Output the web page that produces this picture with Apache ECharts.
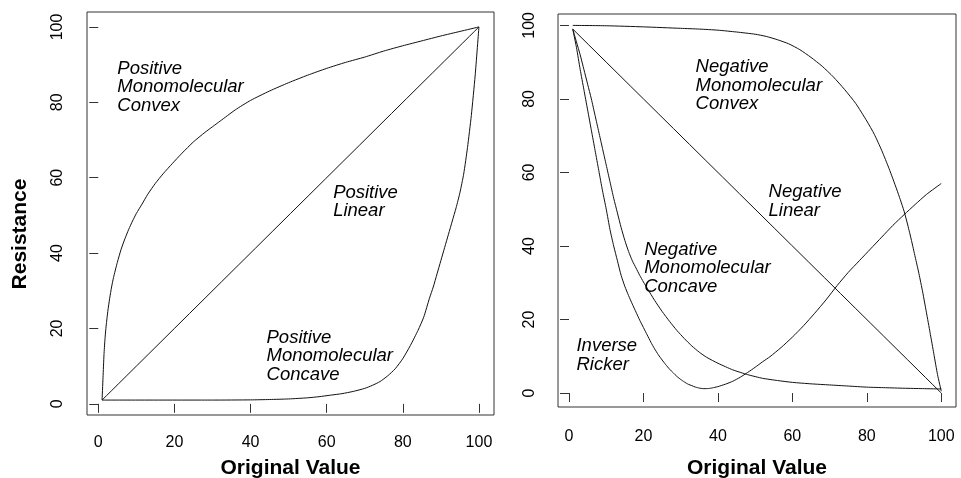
<!DOCTYPE html>
<html>
<head>
<meta charset="utf-8">
<script src="https://cdn.jsdelivr.net/npm/echarts@6/dist/echarts.min.js"></script>
<style>
  html, body { margin: 0; padding: 0; background: #fff; }
  #chart { width: 961px; height: 478px; }
</style>
</head>
<body>
<div id="chart"></div>
<script>
// tick values shared by every axis
const ticks = [0, 20, 40, 60, 80, 100];

// left panel curves
const posConvex = [[1, 1], [1.25, 7], [1.5, 13], [1.75, 17], [2, 20], [2.5, 24.5], [3, 28], [3.5, 31],
    [4, 33.5], [5, 37.5], [6, 41], [7, 43.8], [8, 46.3], [9, 48.5], [10, 50.5], [11.5, 53], [13, 55.6],
    [15, 58.5], [17, 61], [19.5, 63.8], [22, 66.5], [25, 69.5], [28, 72], [32, 75], [36, 78], [40, 80.5],
    [45, 83], [50, 85.2], [55, 87.2], [60, 89], [65, 90.6], [70, 92], [75, 93.6], [80, 95], [85, 96.3],
    [90, 97.6], [95, 98.8], [100, 100]];
const posLinear = [[1, 1], [100, 100]];
const posConcave = [[1, 1], [30, 1], [40, 1.05], [45, 1.15], [50, 1.3], [55, 1.6], [58, 1.9], [61, 2.3],
    [64, 2.7], [67, 3.3], [70, 4.1], [72, 4.9], [74, 5.9], [76, 7.4], [78, 9.3], [80, 12], [82, 15.5],
    [84, 19.5], [85.5, 23], [87, 28], [88, 31], [89, 34.5], [90, 38], [91, 41.5], [92, 45], [93, 48.5],
    [94, 52], [95, 56], [96, 61], [97, 68], [98, 76.5], [99, 87], [100, 100]];

// right panel curves
const negConvex = [[1, 100], [10, 99.9], [20, 99.6], [30, 99.2], [35, 99], [40, 98.7], [45, 98.2],
    [50, 97.6], [53, 97], [56, 96.1], [59, 95], [62, 93.4], [65, 91.3], [68, 88.9], [71, 86], [74, 82.6],
    [77, 78.8], [80, 74], [82, 70.4], [84, 66], [86, 61], [88, 55.5], [89, 52.6], [90, 49.5], [91, 45.7],
    [92, 41.5], [93, 37], [94, 32.5], [95, 27.5], [96, 22], [97, 16.4], [98, 10.7], [99, 5], [100, 0.5]];
const negLinear = [[1, 99], [100, 0]];
const negConcave = [[1, 99], [2, 95.5], [3, 92], [4, 88], [5, 84], [6, 80], [7, 75.5], [8, 71], [9, 66.5],
    [10, 62], [11, 57.5], [12, 53], [13, 49], [14, 45], [15, 41.5], [16, 38.5], [17, 36], [18, 34], [19, 32],
    [20, 30.2], [21, 28.5], [23, 25.2], [25, 22.2], [27, 19.5], [29, 17], [31, 14.8], [33, 12.8], [35, 11.1],
    [37, 9.7], [40, 8.1], [44, 6.3], [48, 5], [52, 4], [56, 3.4], [60, 2.9], [65, 2.5], [70, 2.2], [75, 1.9],
    [80, 1.6], [85, 1.45], [90, 1.3], [95, 1.2], [100, 1.1]];
const invRicker = [[1, 99], [2, 94], [3, 88], [4, 82.5], [5, 77], [6, 71.5], [7, 66], [8, 60.5], [9, 55],
    [10, 50], [11, 44.5], [12, 40], [13, 36], [14, 32], [15, 29], [16, 26.5], [17, 24.2], [18, 22], [19, 19.8],
    [20, 17.8], [21, 15.8], [22, 13.8], [23, 12], [24, 10.4], [25, 9], [26, 7.7], [27, 6.5], [28, 5.5],
    [29, 4.5], [30, 3.7], [31, 3], [32, 2.4], [33, 2], [34, 1.6], [35, 1.35], [36, 1.2], [37, 1.2], [38, 1.3],
    [39, 1.5], [40, 1.75], [42, 2.4], [44, 3.2], [46, 4.3], [48, 5.6], [50, 7], [52, 8.5], [54, 9.9],
    [57, 12.4], [60, 15.2], [63, 18.3], [66, 21.7], [69, 25.3], [72, 29.2], [75, 32.8], [78, 36], [81, 39.2],
    [84, 42.4], [87, 45.6], [90, 48.5], [93, 51.3], [96, 54], [100, 57]];

// text labels: [x, y of middle line, text]
const leftNotes = [
    [5, 84, 'Positive\nMonomolecular\nConvex'],
    [61.7, 53.6, 'Positive\nLinear'],
    [44.2, 12.7, 'Positive\nMonomolecular\nConcave']
];
const rightNotes = [
    [34, 83.6, 'Negative\nMonomolecular\nConvex'],
    [53.6, 52.1, 'Negative\nLinear'],
    [20.2, 34, 'Negative\nMonomolecular\nConcave'],
    [2, 10.2, 'Inverse\nRicker']
];

const font = '"Liberation Sans", Arial, Helvetica, sans-serif';
const ink = '#000';

function xAxis(idx, gap, labelMargin) {
    return {
        type: 'value', gridIndex: idx, min: -2.96, max: 103.96,
        name: 'Original Value', nameLocation: 'middle', nameGap: gap,
        nameTextStyle: { fontFamily: font, fontSize: 21, fontWeight: 'bold', color: ink },
        axisLine: { show: false },
        splitLine: { show: false },
        axisTick: { show: true, length: 9, customValues: ticks, lineStyle: { color: '#333' } },
        axisLabel: { customValues: ticks, margin: labelMargin, fontFamily: font, fontSize: 16, color: ink }
    };
}

function yAxis(idx, min, max, labelMargin, name) {
    return {
        type: 'value', gridIndex: idx, min: min, max: max,
        name: name || '', nameLocation: 'middle', nameGap: 56, nameRotate: 90,
        nameTextStyle: { fontFamily: font, fontSize: 21, fontWeight: 'bold', color: ink, padding: [0, 41, 0, 0] },
        axisLine: { show: false },
        splitLine: { show: false },
        axisTick: { show: true, length: 9, customValues: ticks, lineStyle: { color: '#333' } },
        axisLabel: { customValues: ticks, margin: labelMargin, rotate: 90, fontFamily: font, fontSize: 16, color: ink }
    };
}

function curve(data, idx) {
    return {
        type: 'line', data: data, xAxisIndex: idx, yAxisIndex: idx,
        showSymbol: false, smooth: 0.2, silent: true,
        lineStyle: { color: '#111', width: 1 }
    };
}

function notes(list, idx) {
    return {
        type: 'scatter', xAxisIndex: idx, yAxisIndex: idx, symbolSize: 0, silent: true, z: 5,
        itemStyle: { opacity: 1 },
        data: list.map(n => ({ value: [n[0], n[1]], name: n[2] })),
        label: {
            show: true, position: 'right', distance: 0, formatter: '{b}',
            fontFamily: font, fontSize: 18.5, fontStyle: 'italic', lineHeight: 18.5, color: ink
        }
    };
}

const chart = echarts.init(document.getElementById('chart'));
chart.setOption({
    animation: false,
    backgroundColor: '#fff',
    grid: [
        { left: 87, top: 12, width: 407, height: 403, outerBoundsMode: 'none', containLabel: false,
          show: true, borderColor: '#333', borderWidth: 1, backgroundColor: 'transparent' },
        { left: 558, top: 14, width: 398, height: 393, outerBoundsMode: 'none', containLabel: false,
          show: true, borderColor: '#333', borderWidth: 1, backgroundColor: 'transparent' }
    ],
    xAxis: [xAxis(0, 43, 20), xAxis(1, 51, 22)],
    yAxis: [yAxis(0, -2.96, 103.96, 21, 'Resistance'), yAxis(1, -3.8, 103.1, 20)],
    series: [
        curve(posConvex, 0), curve(posLinear, 0), curve(posConcave, 0), notes(leftNotes, 0),
        curve(negConvex, 1), curve(negLinear, 1), curve(negConcave, 1), curve(invRicker, 1), notes(rightNotes, 1)
    ]
});
window.addEventListener('resize', () => chart.resize());
</script>
</body>
</html>
